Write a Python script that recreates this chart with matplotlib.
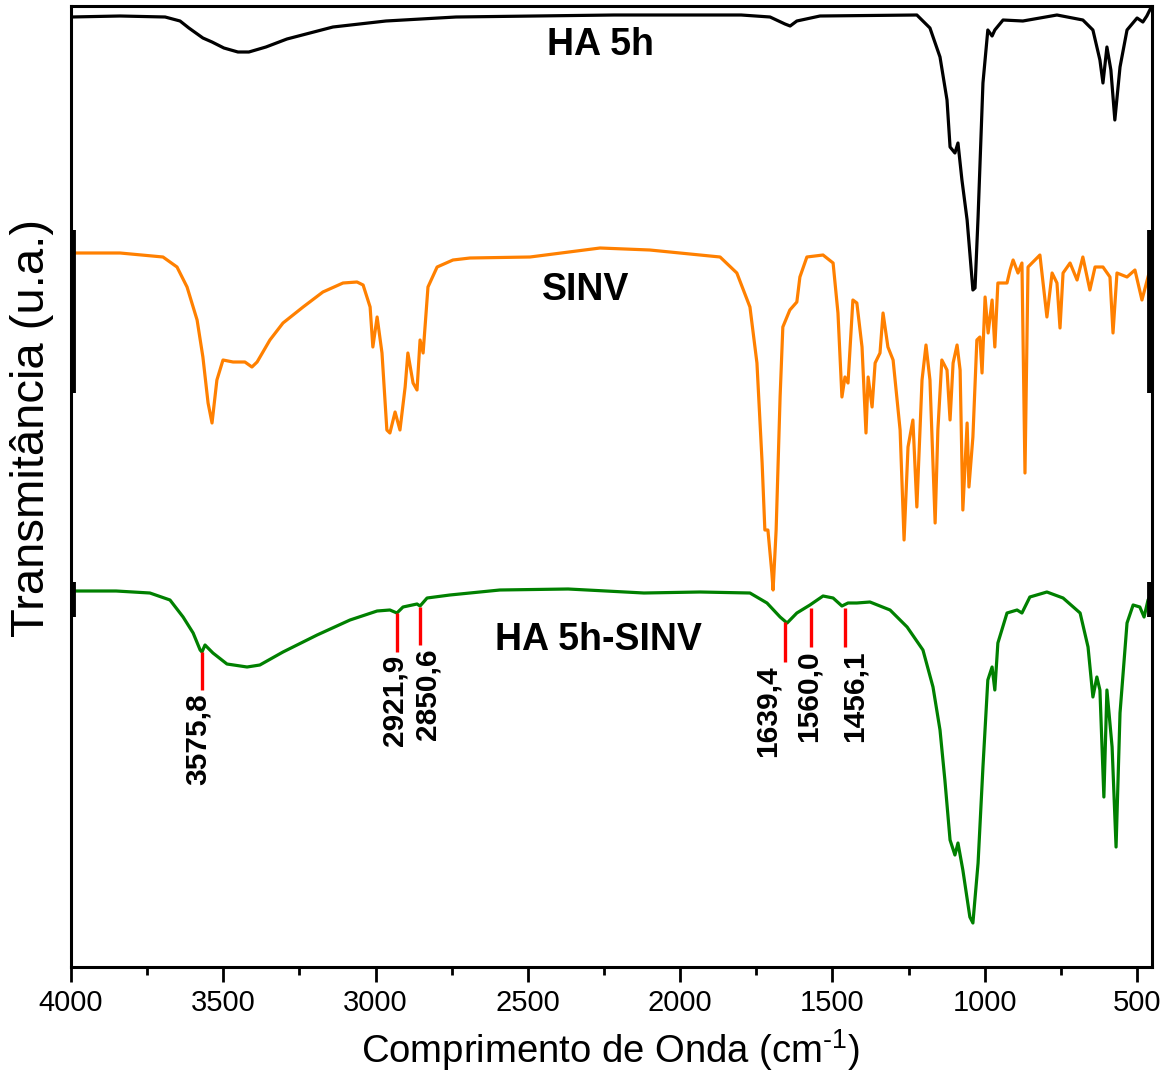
import matplotlib
matplotlib.use("Agg")
import matplotlib.pyplot as plt
import matplotlib.transforms as mtransforms
from matplotlib.ticker import MultipleLocator

plt.rcParams['font.family'] = ['Liberation Sans', 'DejaVu Sans']

# ---------------- data (wavenumber cm-1, transmittance a.u. incl. stacking offset) ----------
ha_wn = [4000, 3839, 3691, 3642, 3613, 3567, 3537, 3498, 3452, 3416, 3360, 3291, 3140, 2966,
         2736, 2217, 1800, 1705, 1656, 1639, 1617, 1541, 1223, 1180, 1147, 1124, 1114, 1098,
         1088, 1075, 1058, 1039, 1032, 1022, 1006, 990, 976, 967, 940, 875, 763, 678, 645,
         622, 612, 599, 586, 573, 556, 533, 500, 481, 468, 455]
ha_t = [983, 984, 983, 979, 972, 962, 958, 952, 948, 948, 953, 961, 973, 979,
        983, 985, 985, 983, 976, 974, 979, 984, 985, 972, 943, 900, 853, 847,
        857, 820, 780, 710, 712, 783, 917, 970, 964, 970, 980, 979, 985, 980, 970,
        940, 917, 953, 930, 880, 933, 970, 982, 978, 984, 992]

sinv_wn = [4000, 3839, 3698, 3652, 3619, 3586, 3567, 3550, 3537, 3521, 3501, 3468, 3429, 3406,
           3389, 3347, 3304, 3238, 3173, 3107, 3061, 3041, 3018, 3009, 2995, 2979, 2963, 2953,
           2936, 2920, 2903, 2894, 2877, 2864, 2854, 2844, 2828, 2798, 2746, 2690, 2493, 2263,
           2100, 1935, 1869, 1814, 1771, 1748, 1731, 1722, 1712, 1699, 1695, 1685, 1672, 1663,
           1640, 1617, 1607, 1584, 1531, 1498, 1482, 1469, 1459, 1449, 1433, 1420, 1403, 1390,
           1383, 1370, 1360, 1344, 1334, 1318, 1301, 1278, 1265, 1252, 1236, 1223, 1206, 1193,
           1180, 1163, 1154, 1141, 1124, 1114, 1104, 1091, 1081, 1072, 1058, 1052, 1039, 1026,
           1016, 1009, 999, 989, 976, 967, 957, 927, 917, 907, 891, 878, 868, 858, 819, 796,
           779, 763, 753, 743, 720, 697, 678, 655, 638, 612, 589, 579, 566, 533, 507, 484,
           458, 451]
sinv_t = [747, 747, 743, 733, 713, 680, 643, 597, 577, 620, 640, 638, 638, 633,
          638, 660, 677, 693, 708, 717, 718, 715, 693, 653, 683, 647, 570, 567,
          588, 570, 613, 647, 617, 610, 660, 647, 713, 733, 740, 742, 743, 752,
          750, 745, 743, 727, 693, 637, 537, 470, 470, 427, 410, 470, 603, 673,
          690, 698, 723, 743, 745, 737, 687, 603, 623, 617, 700, 697, 653, 567,
          623, 593, 637, 647, 687, 653, 640, 570, 460, 553, 580, 493, 620, 655,
          620, 477, 570, 640, 630, 580, 637, 655, 630, 490, 577, 513, 563, 660,
          663, 627, 703, 667, 700, 653, 717, 717, 730, 740, 727, 737, 527, 733, 745, 683,
          727, 717, 672, 727, 737, 720, 743, 710, 733, 733, 723, 667, 727, 723, 730, 700,
          730, 735]

mix_wn = [4000, 3852, 3741, 3675, 3632, 3599, 3576, 3570, 3560, 3534, 3488, 3422, 3380, 3304,
          3192, 3084, 2995, 2953, 2930, 2910, 2864, 2854, 2831, 2756, 2592, 2368, 2119, 1935,
          1771, 1715, 1672, 1649, 1617, 1574, 1531, 1498, 1469, 1449, 1420, 1377, 1311, 1255,
          1203, 1170, 1147, 1131, 1114, 1098, 1088, 1072, 1049, 1039, 1022, 1006, 990, 976,
          967, 957, 927, 894, 878, 852, 796, 743, 687, 661, 645, 632, 622, 609, 599, 582,
          569, 556, 533, 513, 491, 477, 464, 455]
mix_t = [409, 409, 407, 400, 383, 367, 350, 348, 355, 347, 336, 333, 335, 348,
         365, 380, 389, 390, 387, 393, 396, 394, 402, 405, 410, 411, 407, 408,
         407, 397, 383, 377, 387, 395, 404, 402, 394, 397, 397, 398, 390, 373,
         350, 313, 270, 220, 160, 145, 157, 130, 83, 77, 137, 233, 320, 333,
         310, 357, 387, 390, 387, 403, 408, 402, 387, 353, 303, 323, 310, 203, 310, 253,
         153, 287, 377, 395, 393, 383, 400, 405]

series_names = ["HA 5h", "SINV", "HA 5h-SINV"]
series_colors = ["#000000", "#FF8000", "#008000"]

peak_labels = ["3575,8", "2921,9", "2850,6", "1639,4", "1560,0", "1456,1"]
peak_pos = [3570, 2930, 2854, 1656, 1571, 1459]
peak_top = [348, 387, 393, 378, 392, 392]
peak_bottom = [310, 348, 355, 338, 353, 353]

# ---------------- figure ----------------
fig = plt.figure(figsize=(11.7, 10.75), dpi=100)
ax = fig.add_axes([71 / 1170, 1 - 967 / 1075, (1152 - 71) / 1170, (967 - 6) / 1075])

for wn, t, c in zip([ha_wn, sinv_wn, mix_wn], [ha_t, sinv_t, mix_t], series_colors):
    ax.plot(wn, t, color=c, lw=2.3, solid_joinstyle='round')

ax.set_xlim(4000, 451)
ax.set_ylim(33, 994)

# peak markers
label_dx = [-4, -2, 7, -17, -2, 10]  # px offsets of labels
for lab, x, yt, yb, dx in zip(peak_labels, peak_pos, peak_top, peak_bottom, label_dx):
    ax.plot([x, x], [yt, yb], color="#FF0000", lw=2.4, solid_capstyle='butt')
    tr = mtransforms.offset_copy(ax.transData, fig=fig, x=dx, y=-3, units='dots')
    ax.text(x, yb, lab, rotation=90, ha='center', va='top', fontsize=21.5,
            fontweight='bold', transform=tr)

# series names
name_pos = [(2260, 955), (2312, 710), (2267, 360)]
for nm, (xp, yp) in zip(series_names, name_pos):
    ax.text(xp, yp, nm, ha='center', va='center', fontsize=27, fontweight='bold')

# spines / ticks
for sp in ax.spines.values():
    sp.set_linewidth(2.2)
ax.set_yticks([])
ax.xaxis.set_major_locator(MultipleLocator(500))
ax.xaxis.set_minor_locator(MultipleLocator(250))
ax.tick_params(axis='x', which='major', direction='out', length=11, width=2, labelsize=21, pad=5)
ax.tick_params(axis='x', which='minor', direction='out', length=6, width=2)
ax.tick_params(axis='x', which='both', top=False)

# thicker spine segments (stacked-layer axis remnants)
blend = mtransforms.blended_transform_factory(ax.transAxes, ax.transData)
for (y0, y1) in [(770, 607), (418, 383)]:
    for xa in (0.0015, 0.9985):
        ax.plot([xa, xa], [y0, y1], color='black', lw=4.2, transform=blend,
                clip_on=False, solid_capstyle='butt')

fig.text(610 / 1170, 1 - 1050 / 1075, "Comprimento de Onda (cm$^{\\mathregular{\u2010 1}}$)",
         ha='center', va='center', fontsize=27.5)
fig.text(32 / 1170, 1 - 428 / 1075, "Transmitância (u.a.)", rotation=90,
         ha='center', va='center', fontsize=34)

fig.savefig("out.png", dpi=100, facecolor='white')
